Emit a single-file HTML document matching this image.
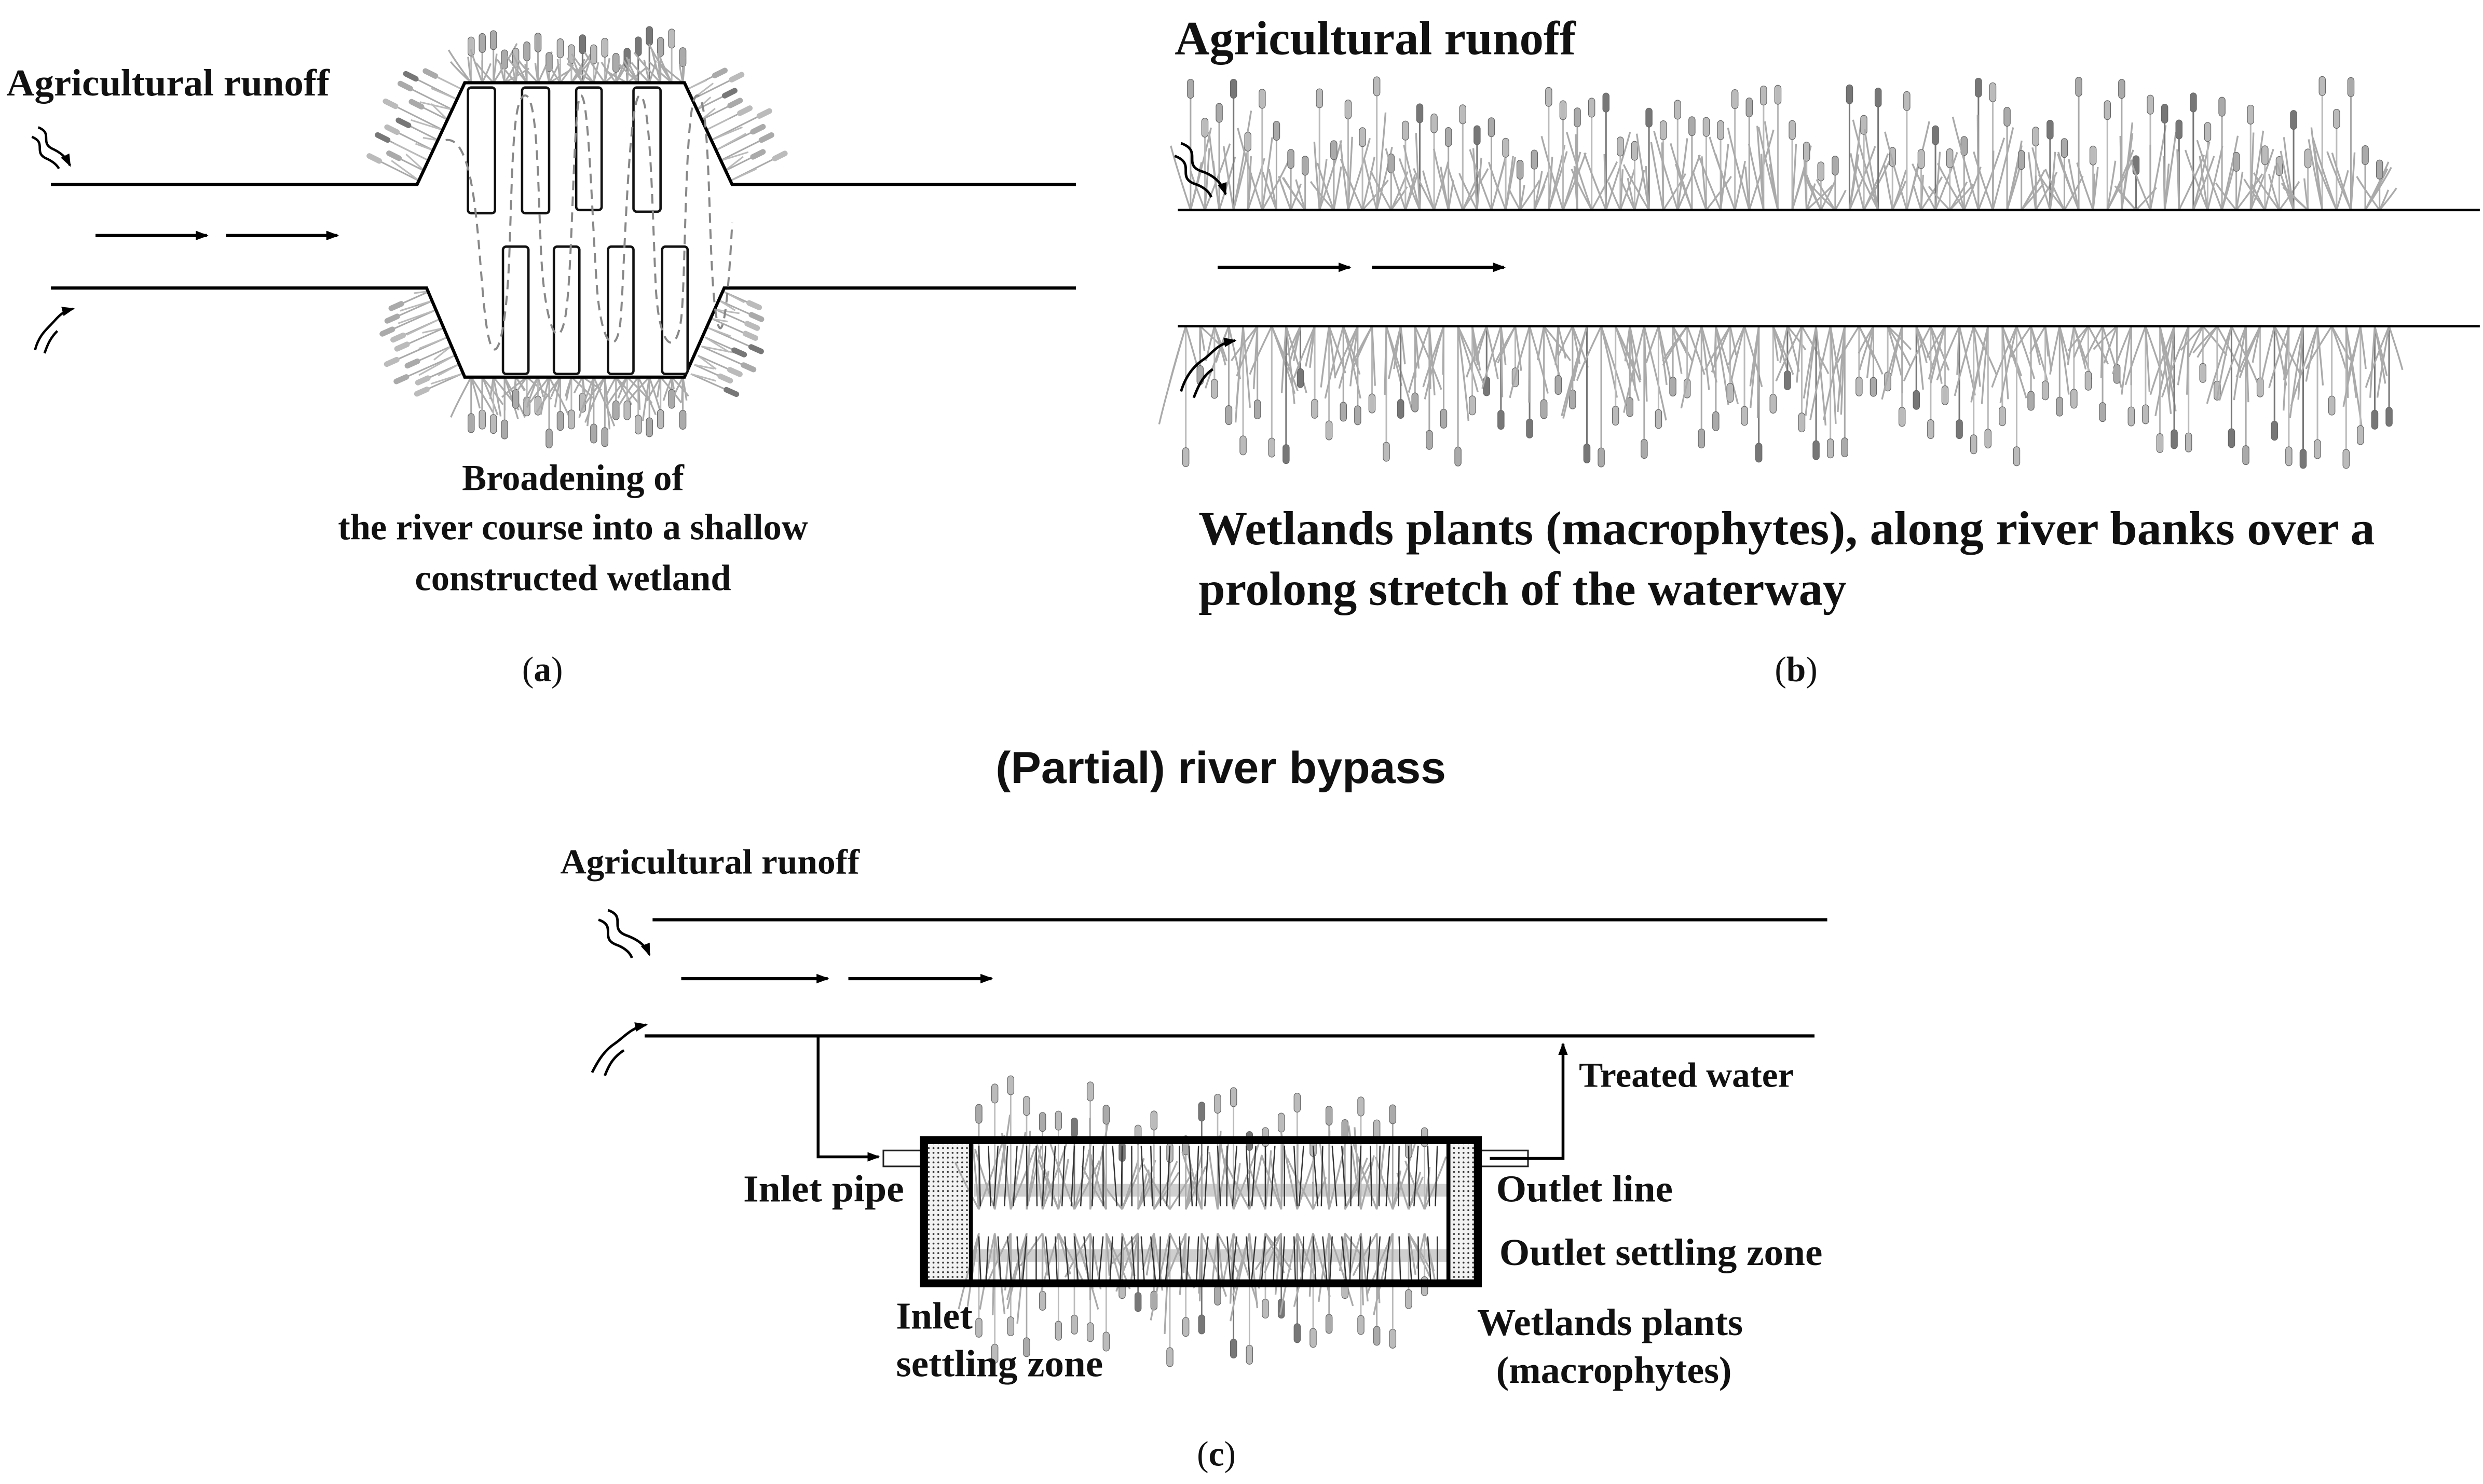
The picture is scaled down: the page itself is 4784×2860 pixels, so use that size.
<!DOCTYPE html>
<html><head><meta charset="utf-8"><style>
html,body{margin:0;padding:0;background:#fff;}
svg{display:block;}
.t{font-family:"Liberation Serif",serif;font-weight:bold;fill:#111;}
</style></head><body>
<svg id="s" width="4784" height="2860" viewBox="0 0 1560 932.6" preserveAspectRatio="none" xmlns="http://www.w3.org/2000/svg">
<defs>
<marker id="ah" markerWidth="8" markerHeight="8" refX="7" refY="4" orient="auto" markerUnits="userSpaceOnUse"><path d="M0,1 L8,4 L0,7 Z" fill="#000"/></marker>
<pattern id="dots" width="3" height="3" patternUnits="userSpaceOnUse"><rect width="3" height="3" fill="#f2f2f2"/><circle cx="1.5" cy="1.5" r="0.6" fill="#333"/></pattern>
</defs>
<rect width="1560" height="933" fill="#fff"/>
<g id="plants"></g>

<!-- (a) -->
<g fill="none" stroke="#000" stroke-width="2">
<path d="M32,116 H262 L292,52 H430 L460,116 H676"/>
<path d="M32,181 H268 L292,237 H430 L455,181 H676"/>
</g>
<g fill="#fff" stroke="#111" stroke-width="1.5">
<rect x="294" y="55" width="17" height="79" rx="2"/><rect x="328" y="55" width="17" height="79" rx="2"/>
<rect x="362" y="55" width="16" height="77" rx="2"/><rect x="398" y="55" width="17" height="78" rx="2"/>
<rect x="316" y="155" width="16" height="80" rx="2"/><rect x="348" y="155" width="16" height="80" rx="2"/>
<rect x="382" y="155" width="16" height="80" rx="2"/><rect x="416" y="155" width="16" height="80" rx="2"/>
</g>
<path d="M280,88 C300,85 300,160 305,200 S318,215 320,160 S322,60 330,60 S338,120 340,160 S350,225 355,200 S360,60 365,60 S372,140 375,180 S388,225 390,200 S395,60 402,60 S410,140 412,180 S425,225 428,200 S430,60 438,60 S445,140 448,180 S456,220 460,140" fill="none" stroke="#888" stroke-width="1.3" stroke-dasharray="6,4"/>
<g stroke="#000" stroke-width="2" marker-end="url(#ah)">
<line x1="60" y1="148" x2="130" y2="148"/><line x1="142" y1="148" x2="212" y2="148"/>
</g>
<g fill="none" stroke="#000" stroke-width="1.5">
<path d="M24,80 c10,4 0,10 10,14 c6,3 8,6 10,10" marker-end="url(#ah)"/>
<path d="M20,86 c10,4 0,10 10,14 c4,2 6,4 7,6"/>
<path d="M22,220 c2,-8 6,-12 10,-16 c4,-4 6,-8 14,-10" marker-end="url(#ah)"/>
<path d="M28,222 c2,-6 4,-10 8,-14"/>
</g>
<text class="t" x="4" y="60" font-size="24" textLength="203" lengthAdjust="spacingAndGlyphs">Agricultural runoff</text>
<text class="t" x="360" y="308" font-size="23" text-anchor="middle">Broadening of</text>
<text class="t" x="360" y="339" font-size="23" text-anchor="middle">the river course into a shallow</text>
<text class="t" x="360" y="371" font-size="23" text-anchor="middle">constructed wetland</text>
<text x="328" y="428" font-size="22" font-family="Liberation Serif,serif" fill="#111">(<tspan font-weight="bold">a</tspan>)</text>

<!-- (b) -->
<g stroke="#000" stroke-width="1.5"><line x1="740" y1="132" x2="1558" y2="132"/><line x1="740" y1="205" x2="1558" y2="205"/></g>
<g stroke="#000" stroke-width="2" marker-end="url(#ah)">
<line x1="765" y1="168" x2="848" y2="168"/><line x1="862" y1="168" x2="945" y2="168"/>
</g>
<g fill="none" stroke="#000" stroke-width="1.6">
<path d="M742,90 c14,5 0,14 14,18 c8,3 12,8 14,14" marker-end="url(#ah)"/>
<path d="M738,98 c14,5 0,14 14,18 c5,2 8,5 9,8"/>
<path d="M742,246 c3,-10 8,-16 14,-20 c6,-4 8,-10 20,-12" marker-end="url(#ah)"/>
<path d="M750,250 c3,-8 6,-14 12,-18"/>
</g>
<text class="t" x="738" y="34" font-size="30" textLength="252" lengthAdjust="spacingAndGlyphs">Agricultural runoff</text>
<text class="t" x="753" y="342" font-size="30" textLength="739" lengthAdjust="spacingAndGlyphs">Wetlands plants (macrophytes), along river banks over a</text>
<text class="t" x="753" y="380" font-size="30">prolong stretch of the waterway</text>
<text x="1115" y="428" font-size="22" font-family="Liberation Serif,serif" fill="#111">(<tspan font-weight="bold">b</tspan>)</text>

<!-- (c) -->
<text x="767" y="492" font-size="28" font-family="Liberation Sans,sans-serif" font-weight="bold" fill="#111" text-anchor="middle" textLength="283" lengthAdjust="spacingAndGlyphs">(Partial) river bypass</text>
<text class="t" x="352" y="549" font-size="22" textLength="188" lengthAdjust="spacingAndGlyphs">Agricultural runoff</text>
<g stroke="#000" stroke-width="2"><line x1="410" y1="578" x2="1148" y2="578"/><line x1="405" y1="651" x2="1140" y2="651"/></g>
<g stroke="#000" stroke-width="2" marker-end="url(#ah)">
<line x1="428" y1="615" x2="520" y2="615"/><line x1="533" y1="615" x2="623" y2="615"/>
</g>
<g fill="none" stroke="#000" stroke-width="1.6">
<path d="M382,572 c12,4 0,12 12,16 c8,3 12,7 14,12" marker-end="url(#ah)"/>
<path d="M376,578 c12,4 0,12 12,16 c5,2 8,5 9,8"/>
<path d="M372,674 c4,-8 8,-14 14,-18 c6,-4 10,-10 20,-12" marker-end="url(#ah)"/>
<path d="M380,676 c3,-8 6,-12 12,-16"/>
</g>
<path d="M514,651 V727 H552" fill="none" stroke="#000" stroke-width="1.8" marker-end="url(#ah)"/>
<rect x="555" y="723" width="30" height="10" fill="#fff" stroke="#222" stroke-width="1"/>
<rect x="930" y="723" width="30" height="10" fill="#fff" stroke="#222" stroke-width="1"/>
<path d="M936,728 H982 V656" fill="none" stroke="#000" stroke-width="1.8" marker-end="url(#ah)"/>
<rect x="582" y="719" width="28" height="87" fill="url(#dots)"/>
<rect x="911" y="719" width="17" height="87" fill="url(#dots)"/>
<rect x="612" y="744" width="297" height="8" fill="#bbb" opacity="0.7"/>
<rect x="612" y="785" width="297" height="8" fill="#bbb" opacity="0.7"/>
<g id="cplants"></g>
<rect x="580.5" y="716.5" width="348" height="90" fill="none" stroke="#000" stroke-width="5"/>
<line x1="610" y1="717" x2="610" y2="806" stroke="#000" stroke-width="2.5"/>
<line x1="910" y1="717" x2="910" y2="806" stroke="#000" stroke-width="2.5"/>
<text class="t" x="992" y="683" font-size="22" textLength="135" lengthAdjust="spacingAndGlyphs">Treated water</text>
<text class="t" x="467" y="755" font-size="24" textLength="101" lengthAdjust="spacingAndGlyphs">Inlet pipe</text>
<text class="t" x="940" y="755" font-size="24" textLength="111" lengthAdjust="spacingAndGlyphs">Outlet line</text>
<text class="t" x="942" y="795" font-size="24" textLength="203" lengthAdjust="spacingAndGlyphs">Outlet settling zone</text>
<text class="t" x="563" y="835" font-size="24">Inlet</text>
<text class="t" x="563" y="865" font-size="24" textLength="130" lengthAdjust="spacingAndGlyphs">settling zone</text>
<text class="t" x="928" y="839" font-size="24" textLength="167" lengthAdjust="spacingAndGlyphs">Wetlands plants</text>
<text class="t" x="940" y="869" font-size="24" textLength="148" lengthAdjust="spacingAndGlyphs">(macrophytes)</text>
<text x="752" y="921" font-size="22" font-family="Liberation Serif,serif" fill="#111">(<tspan font-weight="bold">c</tspan>)</text>
</svg>
<script>
(function(){
var seed=7;function r(){seed=(seed*9301+49297)%233280;return seed/233280;}
var NS="http://www.w3.org/2000/svg";
function add(g,tag,at){var e=document.createElementNS(NS,tag);for(var k in at)e.setAttribute(k,at[k]);g.appendChild(e);}
var G=document.getElementById("plants"),C=document.getElementById("cplants");
function plant(g,x,y,dir,len,col,lw){
  var tip=y+dir*len;
  add(g,"line",{x1:x,y1:y,x2:x,y2:tip,stroke:col,"stroke-width":lw||1});
  add(g,"rect",{x:x-2,y:(dir<0?tip:tip-12),width:4,height:12,rx:2,fill:col,stroke:"#666","stroke-width":0.4});
  for(var i=0;i<3;i++){var s=(r()-0.5)*24;var h=len*(0.4+r()*0.45);
   add(g,"path",{d:"M"+x+","+y+" Q"+(x+s)+","+(y+dir*h*0.6)+" "+(x+s*1.4)+","+(y+dir*h*0.9),fill:"none",stroke:"#aaa","stroke-width":1.1});}
}
function pal(){var v=r();return v<0.15?"#777":(v<0.5?"#aaa":"#bbb");}
for(var x=296;x<430;x+=7){plant(G,x,52,-1,18+r()*22,pal());}
for(var x=296;x<430;x+=7){plant(G,x,237,1,18+r()*32,pal());}
function side(x0,y0,x1,y1,dx,dy,n){for(var i=0;i<n;i++){var t=i/(n-1);var x=x0+(x1-x0)*t,y=y0+(y1-y0)*t;var L=18+r()*18;
  add(G,"line",{x1:x,y1:y,x2:x+dx*L,y2:y+dy*L,stroke:"#aaa","stroke-width":1});
  add(G,"line",{x1:x+dx*L,y1:y+dy*L,x2:x+dx*(L+7),y2:y+dy*(L+7),stroke:pal(),"stroke-width":3.5,"stroke-linecap":"round"});
  add(G,"path",{d:"M"+x+","+y+" l"+(dx*L*0.7+(r()-0.5)*10)+","+(dy*L*0.7+(r()-0.5)*10),stroke:"#bbb","stroke-width":1,fill:"none"});}}
side(264,114,290,56,-0.9,-0.45,10);
side(432,56,458,114,0.9,-0.45,10);
side(270,183,290,235,-0.9,0.4,10);
side(434,235,454,183,0.9,0.4,10);
for(var x=748;x<1500;x+=9){plant(G,x,132,-1,30+r()*55,pal());}
for(var x=745;x<1505;x+=9){plant(G,x,205,1,35+r()*55,pal());}
for(var x=615;x<905;x+=10){plant(C,x,760,-1,40+r()*50,pal(),0.9);}
for(var x=615;x<905;x+=10){plant(C,x,775,1,35+r()*55,pal(),0.9);}
for(var x=615;x<905;x+=6){add(C,"line",{x1:x,y1:720,x2:x+(r()-0.5)*6,y2:758,stroke:"#333","stroke-width":0.8});
 add(C,"line",{x1:x,y1:777,x2:x+(r()-0.5)*6,y2:805,stroke:"#333","stroke-width":0.8});}
})();
</script>
</body></html>
